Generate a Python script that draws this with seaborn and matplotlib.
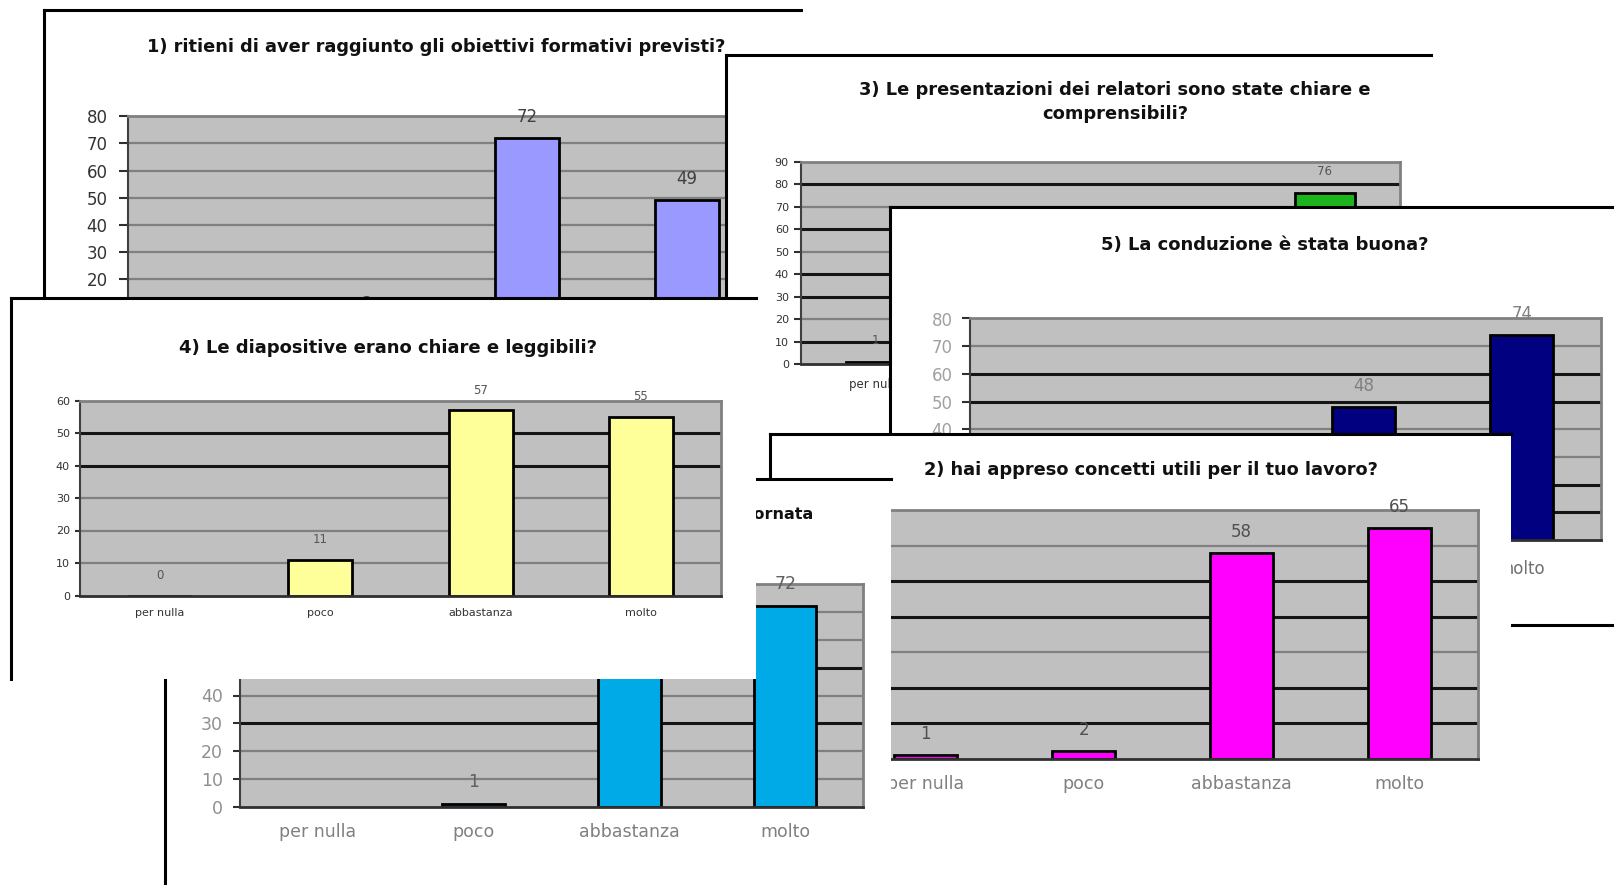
import numpy as np
import pandas as pd
import matplotlib
matplotlib.use("Agg")
import matplotlib.pyplot as plt
import seaborn as sns

# ---------------- data ----------------
categories = ["per nulla", "poco", "abbastanza", "molto"]

q1_title = "1) ritieni di aver raggiunto gli obiettivi formativi previsti?"
q1_values = [0, 3, 72, 49]

q2_title = "2) hai appreso concetti utili per il tuo lavoro?"
q2_values = [1, 2, 58, 65]

q3_title = ["3) Le presentazioni dei relatori sono state chiare e", "comprensibili?"]
q3_values = [1, 1, 44, 76]

q4_title = "4) Le diapositive erano chiare e leggibili?"
q4_values = [0, 11, 57, 55]

q5_title = "5) La conduzione è stata buona?"
q5_values = [0, 1, 48, 74]

q6_title = "6) Valutazione complessiva della giornata"
q6_values = [np.nan, 1, 50, 72]

# ---------------- figure ----------------
W, H = 1614, 885
sns.set_style("white")
plt.rcParams["font.family"] = ["DejaVu Sans"]
fig = plt.figure(figsize=(W / 100, H / 100), dpi=100)
fig.patch.set_facecolor("white")
renderer = fig.canvas.get_renderer()
PX = 72 / 100  # points per pixel

charts = []


def rect(x0, y0, x1, y1):
    return [x0 / W, 1 - y1 / H, (x1 - x0) / W, (y1 - y0) / H]


def draw_chart(z, panel_box, sides, plot_box, values, ymax, color, dark, titles, st):
    # white "screenshot" panel
    axp = fig.add_axes(rect(*panel_box), zorder=z)
    axp.set_facecolor("white")
    axp.set_xticks([])
    axp.set_yticks([])
    for side, sp in axp.spines.items():
        sp.set_visible(side in sides)
        sp.set_color("black")
        sp.set_linewidth(2.2)
    fitted = None
    for (s, x, y, ha, fs, target) in titles:
        if fs is None:
            fs = fitted
        t = axp.text(x / W, 1 - y / H, s, transform=fig.transFigure, ha=ha, va="center",
                     fontsize=fs, fontweight="bold", color="#111111")
        if target:
            bb = t.get_window_extent(renderer)
            t.set_fontsize(fs * target / bb.width)
            fitted = fs * target / bb.width
        else:
            fitted = fs

    # plot area
    ax = fig.add_axes(rect(*plot_box), zorder=z + 1)
    df = pd.DataFrame({"risposta": categories, "n": values})
    sns.barplot(data=df, x="risposta", y="n", order=categories, color=color, saturation=1,
                width=0.4, edgecolor="black", linewidth=2, errorbar=None, ax=ax)
    ax.set_facecolor("#c0c0c0")
    ax.set_xlim(-0.5, 3.5)
    ax.set_ylim(0, ymax)
    ax.set_xlabel("")
    ax.set_ylabel("")
    ticks = list(range(0, ymax + 1, 10))
    ax.set_yticks(ticks)
    for v in ticks[1:-1]:
        if v in dark:
            ax.axhline(v, color="#151515", lw=2.2, zorder=0.5)
        else:
            ax.axhline(v, color="#808080", lw=1.6, zorder=0.5)
    for side, sp in ax.spines.items():
        sp.set_color("#808080")
        sp.set_linewidth(2)
    ax.spines["bottom"].set_color("#303030")
    ax.spines["left"].set_color("#404040")
    ax.spines["left"].set_linewidth(1.5)

    ax.set_xticks(range(len(categories)), categories)
    ax.set_xticks([-0.5, 0.5, 1.5, 2.5, 3.5], minor=True)
    ax.tick_params(axis="x", which="major", length=0, pad=st["xpad"] * PX,
                   labelsize=st["xfs"], labelcolor=st["xcol"])
    ax.tick_params(axis="x", which="minor", length=st["xlen"] * PX, width=1.5,
                   color="#303030", direction="out")
    ax.tick_params(axis="y", which="major", length=st["ylen"] * PX, width=1.5,
                   color="#303030", direction="out", pad=st["ypad"] * PX,
                   labelsize=st["yfs"], labelcolor=st["ycol"], left=True)

    for i, v in enumerate(values):
        if np.isnan(v):
            continue
        ax.annotate(f"{v:g}", xy=(i, v), xytext=(0, st["voff"]), textcoords="offset pixels",
                    ha="center", va="center", fontsize=st["vfs"], color=st["vcol"],
                    annotation_clip=False)
    charts.append((axp, ax))
    return ax


# 1) bottom chart
draw_chart(10, (44, 10, 801, 420), ("top", "left"), (127.5, 116.3, 766.8, 333.4),
           q1_values, 80, "#9999ff", [],
           [(q1_title, 436, 46.5, "center", 12, 576)],
           dict(yfs=12, ycol="#333333", ylen=9, ypad=11, xfs=11, xcol="#333333", xpad=18,
                xlen=7, vfs=12, vcol="#404040", voff=21))

# 3) green
draw_chart(20, (725.7, 54.6, 1431, 470), ("top", "left"), (800.8, 162, 1399.8, 364.4),
           q3_values, 90, "#1cb41c", [10, 30, 40, 60, 80],
           [(q3_title[0], 1115, 90, "center", 11, 509), (q3_title[1], 1115, 114, "center", None, None)],
           dict(yfs=8, ycol="#333333", ylen=7, ypad=5, xfs=8.5, xcol="#333333", xpad=14,
                xlen=6, vfs=8.5, vcol="#555555", voff=22))

# 5) navy
draw_chart(30, (890.4, 206.9, 1630, 624.8), ("top", "left", "bottom"), (969.6, 318.5, 1600.5, 540),
           q5_values, 80, "#000080", [10, 20, 50, 60],
           [(q5_title, 1265, 245, "center", 12, 329)],
           dict(yfs=12, ycol="#a0a0a0", ylen=8, ypad=9, xfs=12, xcol="#707070", xpad=20,
                xlen=7, vfs=12, vcol="#808080", voff=21))

# 2) magenta
draw_chart(40, (770, 434.4, 1511, 900), ("top", "left"), (847, 510, 1478, 758.6),
           q2_values, 70, "#ff00ff", [10, 20, 40, 50],
           [(q2_title, 1151, 470, "center", 12, 452)],
           dict(yfs=12, ycol="#909090", ylen=8, ypad=9, xfs=12.5, xcol="#808080", xpad=16,
                xlen=7, vfs=12, vcol="#505050", voff=21))

# 6) cyan
draw_chart(50, (164.7, 478.6, 891.4, 900), ("top", "left"), (240, 584, 863, 807),
           q6_values, 80, "#00aae6", [30, 50],
           [(q6_title, 813, 515, "right", 11.5, None)],
           dict(yfs=12.5, ycol="#909090", ylen=7, ypad=10, xfs=12.5, xcol="#808080", xpad=16,
                xlen=7, vfs=12.5, vcol="#606060", voff=22))

# 4) yellow (top)
draw_chart(60, (11, 298.5, 756, 679), ("top", "left"), (80, 400.5, 721, 595.5),
           q4_values, 60, "#ffff99", [40, 50],
           [(q4_title, 388, 348, "center", 11, 417)],
           dict(yfs=8, ycol="#333333", ylen=5, ypad=5, xfs=8, xcol="#333333", xpad=13,
                xlen=6, vfs=8.5, vcol="#555555", voff=20))

# texts that lie entirely under a later (overlapping) chart are not visible anyway
fig.canvas.draw()
renderer = fig.canvas.get_renderer()
panel_boxes = [axp.get_window_extent(renderer) for axp, _ in charts]
for k, (axp, ax) in enumerate(charts):
    texts = list(axp.texts) + list(ax.texts) + list(ax.get_xticklabels()) + list(ax.get_yticklabels())
    for t in texts:
        if not t.get_text():
            continue
        bb = t.get_window_extent(renderer)
        for pb in panel_boxes[k + 1:]:
            if pb.x0 <= bb.x0 and bb.x1 <= pb.x1 and pb.y0 <= bb.y0 and bb.y1 <= pb.y1:
                t.set_visible(False)
                break

fig.savefig("out.png", dpi=100, facecolor="white")
